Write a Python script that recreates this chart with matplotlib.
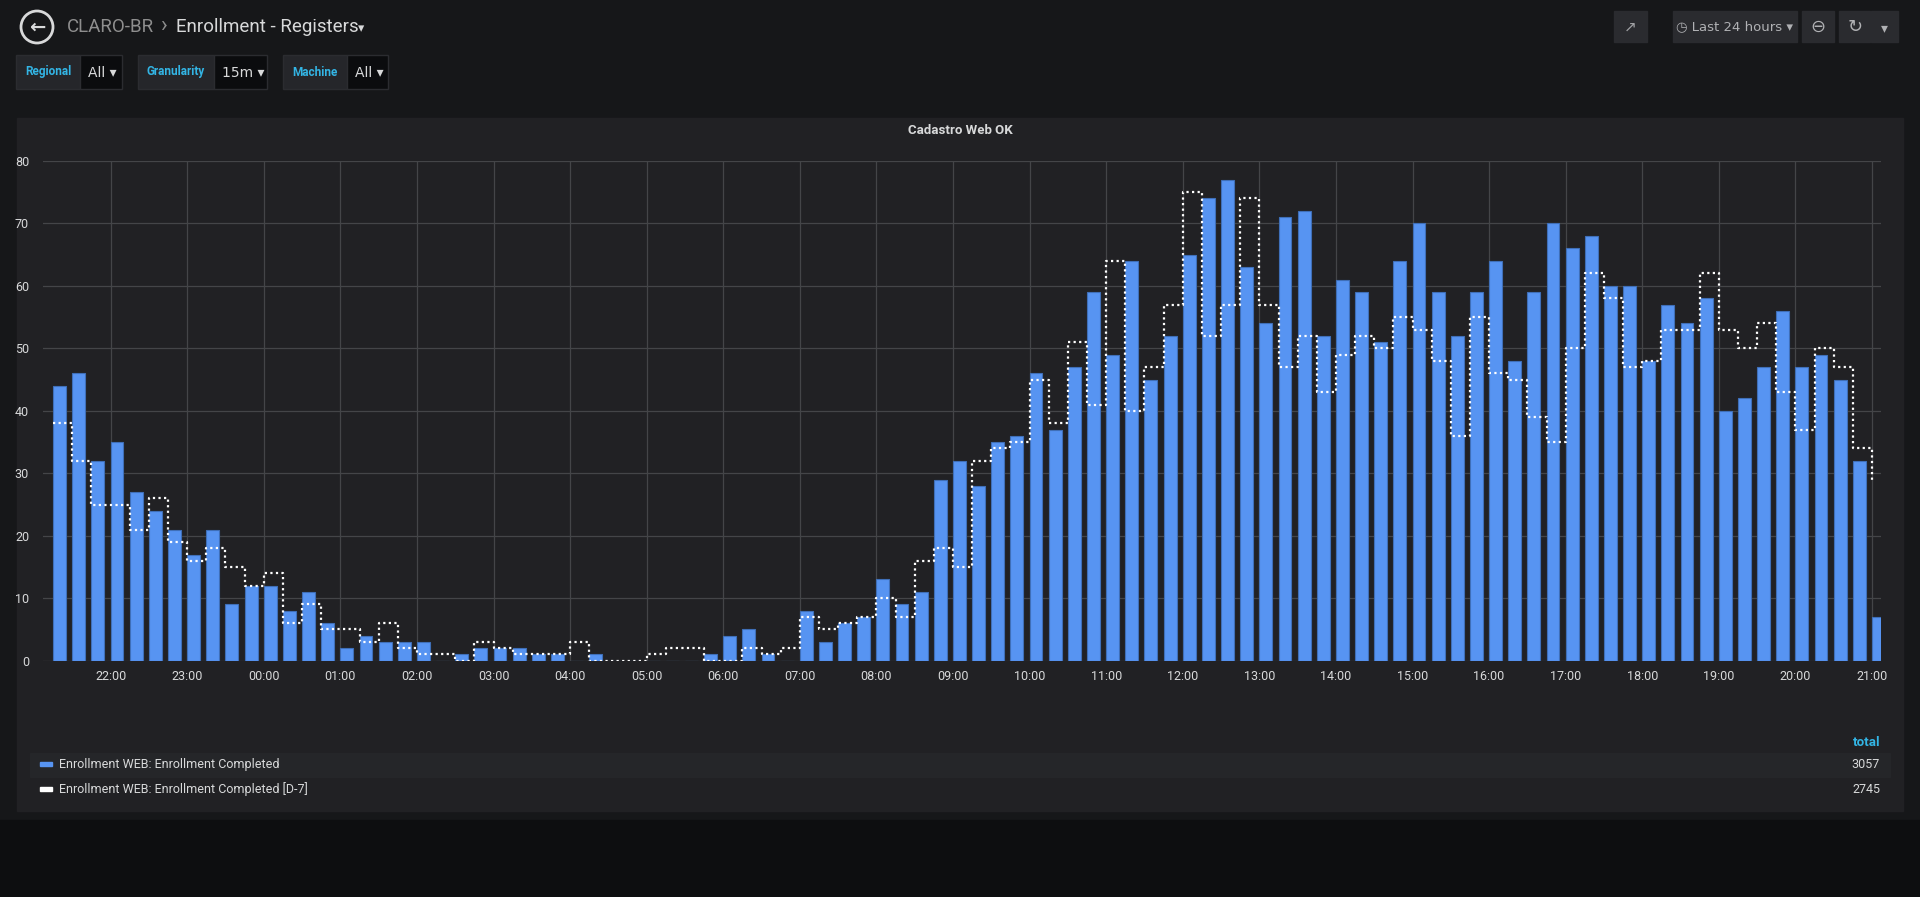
import numpy as np
import matplotlib
matplotlib.use("Agg")
import matplotlib.pyplot as plt
import matplotlib.patches as patches

plt.rcParams['font.family'] = ['Roboto', 'DejaVu Sans']

# 15-minute buckets, starting 21:15 and ending 21:00 next day
completed = [
    44, 46, 32,                      # 21:15-21:45
    35, 27, 24, 21,                  # 22
    17, 21, 9, 12,                   # 23
    12, 8, 11, 6,                    # 00
    2, 4, 3, 3,                      # 01
    3, 0, 1, 2,                      # 02
    2, 2, 1, 1,                      # 03
    0, 1, 0, 0,                      # 04
    0, 0, 0, 1,                      # 05
    4, 5, 1, 0,                      # 06
    8, 3, 6, 7,                      # 07
    13, 9, 11, 29,                   # 08
    32, 28, 35, 36,                  # 09
    46, 37, 47, 59,                  # 10
    49, 64, 45, 52,                  # 11
    65, 74, 77, 63,                  # 12
    54, 71, 72, 52,                  # 13
    61, 59, 51, 64,                  # 14
    70, 59, 52, 59,                  # 15
    64, 48, 59, 70,                  # 16
    66, 68, 60, 60,                  # 17
    48, 57, 54, 58,                  # 18
    40, 42, 47, 56,                  # 19
    47, 49, 45, 32,                  # 20
    7,                               # 21:00
]
completed_d7 = [
    38, 32, 25,
    25, 21, 26, 19,
    16, 18, 15, 12,
    14, 6, 9, 5,
    5, 3, 6, 2,
    1, 1, 0, 3,
    2, 1, 1, 1,
    3, 0, 0, 0,
    1, 2, 2, 0,
    0, 2, 1, 2,
    7, 5, 6, 7,
    10, 7, 16, 18,
    15, 32, 34, 35,
    45, 38, 51, 41,
    64, 40, 47, 57,
    75, 52, 57, 74,
    57, 47, 52, 43,
    49, 52, 50, 55,
    53, 48, 36, 55,
    46, 45, 39, 35,
    50, 62, 58, 47,
    48, 53, 53, 62,
    53, 50, 54, 43,
    37, 50, 47, 34,
    29,
]
hour_labels = ["22:00", "23:00", "00:00", "01:00", "02:00", "03:00", "04:00", "05:00",
               "06:00", "07:00", "08:00", "09:00", "10:00", "11:00", "12:00", "13:00",
               "14:00", "15:00", "16:00", "17:00", "18:00", "19:00", "20:00", "21:00"]
series_names = ["Enrollment WEB: Enrollment Completed",
                "Enrollment WEB: Enrollment Completed [D-7]"]
totals = ["3057", "2745"]

BG = '#161719'
PANEL = '#212124'
BLUE = '#5794f2'
TXT = '#d8d9da'
CYAN = '#33b5e5'

W, H = 1920, 897
fig = plt.figure(figsize=(W / 100, H / 100), dpi=100, facecolor=BG)

def fx(px):
    return px / W

def fy(py):
    return 1 - py / H

def box(x0, y0, x1, y1, color, ec=None):
    fig.patches.append(patches.Rectangle((fx(x0), fy(y1)), fx(x1 - x0), (y1 - y0) / H,
                                         transform=fig.transFigure, facecolor=color,
                                         edgecolor=ec or color, linewidth=1, zorder=0))

# bottom darker band
box(0, 820, W, H, '#0d0e10')
# panel
box(17, 118, 1903, 811, PANEL)

# header
fig.patches.append(patches.Ellipse((fx(37), fy(27)), 32 / W, 32 / H, transform=fig.transFigure,
                                   facecolor='none', edgecolor=TXT, linewidth=2))
fig.text(fx(37), fy(27), "\u2190", color=TXT, fontsize=14, fontweight='bold',
         ha='center', va='center', family=['DejaVu Sans'])
fig.text(fx(67), fy(27), "CLARO-BR", color='#8e8e8e', fontsize=13.5, va='center')
fig.text(fx(160), fy(27), "\u203a", color='#8e8e8e', fontsize=16, va='center')
fig.text(fx(176), fy(27), "Enrollment - Registers", color=TXT, fontsize=13.5, va='center')
fig.text(fx(358), fy(29), "\u25be", color=TXT, fontsize=9, va='center',
         family=['DejaVu Sans'])

vars_ = [("Regional", "All", 16, 80, 122), ("Granularity", "15m", 138, 214, 267),
         ("Machine", "All", 283, 347, 388)]
for label, val, x0, xm, x1 in vars_:
    box(x0, 55, xm, 89, '#25262a', ec='#2b2c30')
    box(xm, 55, x1, 89, '#0b0c0e', ec='#2b2c30')
    fig.text(fx((x0 + xm) / 2), fy(72), label, color=CYAN, fontsize=8.5, fontweight='bold',
             ha='center', va='center')
    fig.text(fx(xm + 8), fy(73), val + " \u25be", color=TXT, fontsize=10, va='center',
             family=['DejaVu Sans'])

# top-right buttons
for x0, x1 in [(1614, 1647), (1673, 1797), (1802, 1834), (1839, 1870), (1871, 1898)]:
    box(x0, 11, x1, 42, '#2a2b2f', ec='#2a2b2f')
fig.text(fx(1630), fy(27), "\u2197", color='#9fa0a3', fontsize=11, ha='center', va='center',
         family=['DejaVu Sans'])
fig.text(fx(1735), fy(27), "\u25f7 Last 24 hours \u25be", color='#b0b1b4', fontsize=9.5,
         ha='center', va='center', family=['DejaVu Sans'])
fig.text(fx(1818), fy(27), "\u2296", color='#b0b1b4', fontsize=13, ha='center', va='center',
         family=['DejaVu Sans'])
fig.text(fx(1855), fy(27), "\u21bb", color='#b0b1b4', fontsize=13, ha='center', va='center',
         family=['DejaVu Sans'])
fig.text(fx(1884), fy(28), "\u25be", color='#b0b1b4', fontsize=10, ha='center', va='center',
         family=['DejaVu Sans'])

# panel title
fig.text(fx(960), fy(130), "Cadastro Web OK", color=TXT, fontsize=9.5, fontweight='bold',
         ha='center', va='center')

# plot
ax = fig.add_axes([fx(43), fy(660.7), fx(1881 - 43), (660.7 - 161) / H])
ax.set_zorder(2)
ax.patch.set_alpha(0)
n = len(completed)
t = 0.25 + 0.25 * np.arange(n)
ax.bar(t, completed, width=0.168, align='edge', color=BLUE, edgecolor='#3f6fb8',
       linewidth=0.8, zorder=2)
t7 = 0.25 + 0.25 * np.arange(len(completed_d7))
ax.step(t7, completed_d7, where='post', color='white', linestyle=(0, (1, 1.5)),
        linewidth=1.6, zorder=3)
ax.set_xlim(0.117, 24.117)
ax.set_ylim(0, 80)
ax.set_xticks(np.arange(1, 25))
ax.set_xticklabels(hour_labels)
ax.set_yticks(np.arange(0, 81, 10))
ax.grid(True, color='#444548', linewidth=0.9, zorder=0)
ax.set_axisbelow(True)
ax.tick_params(colors=TXT, labelsize=9, length=0, pad=7)
ax.tick_params(axis='y', pad=10)
for s in ax.spines.values():
    s.set_visible(False)

# legend table
fig.text(fx(1880), fy(742), "total", color=CYAN, fontsize=9.5, fontweight='bold',
         ha='right', va='center')
box(30, 753, 1890, 777, '#252629')
rows = [(764, BLUE), (789, 'white')]
for (yy, col), name, tot in zip(rows, series_names, totals):
    box(40, yy - 2, 52, yy + 2, col)
    fig.text(fx(59), fy(yy), name, color=TXT, fontsize=9, va='center')
    fig.text(fx(1880), fy(yy), tot, color=TXT, fontsize=9, ha='right', va='center')

fig.savefig("out.png", dpi=100, facecolor=BG)
